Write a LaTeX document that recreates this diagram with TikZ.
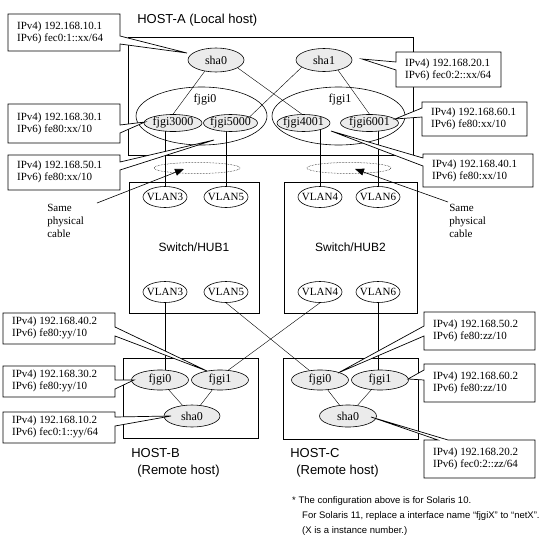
\documentclass[tikz,border=0pt]{standalone}
\usepackage{fontspec}
\setmainfont{Liberation Serif}
\newfontfamily\sansf{Liberation Sans}
\usetikzlibrary{shapes.geometric,arrows.meta,backgrounds}
\newcommand\coutE[7]{\draw[callout] (#1,#2) -- (#3,#2) -- (#3,#5) -- (#7) -- (#3,#6) -- (#3,#4) -- (#1,#4) -- cycle;}
\newcommand\coutW[7]{\draw[callout] (#3,#2) -- (#1,#2) -- (#1,#5) -- (#7) -- (#1,#6) -- (#1,#4) -- (#3,#4) -- cycle;}
\newcommand\coutN[7]{\draw[callout] (#1,#4) -- (#1,#2) -- (#5,#2) -- (#7) -- (#6,#2) -- (#3,#2) -- (#3,#4) -- cycle;}
\begin{document}
\begin{tikzpicture}[x=1pt,y=-1pt,line width=0.6pt,
  ell/.style={ellipse, draw, fill=black!8, inner sep=0pt},
  bigell/.style={ellipse, draw, inner sep=0pt},
  vlan/.style={ellipse, draw, fill=white, inner sep=0pt, minimum width=44pt, minimum height=21pt},
  etxt/.style={font=\fontsize{12}{14}\selectfont, inner sep=0pt},
  vtxt/.style={font=\fontsize{11}{13}\selectfont, inner sep=0pt},
  lbl/.style={font=\fontsize{11}{12.5}\selectfont, align=left, anchor=west, inner sep=0pt},
  callout/.style={draw, fill=white, line width=0.7pt},
  box/.style={draw, line width=0.8pt},
  hosttxt/.style={font=\sansf\fontsize{13}{15}\selectfont, inner sep=0pt, anchor=west},
  swtxt/.style={font=\sansf\fontsize{12}{14}\selectfont, inner sep=0pt},
  cabtxt/.style={font=\fontsize{11}{13}\selectfont, align=left, anchor=north west, inner sep=0pt},
  note/.style={font=\sansf\fontsize{9.5}{15}\selectfont, align=left, anchor=north west, inner sep=0pt},
  dotell/.style={ellipse, draw, densely dotted, line width=0.5pt, inner sep=0pt, minimum height=11pt},
  pointer/.style={-{Triangle[length=9pt,width=7pt]}, line width=0.6pt}]
\useasboundingbox (0,0) rectangle (540,541);

% ---------- HOST-A ----------
\node[hosttxt] (hAt) at (137,20) {HOST-A (Local host)};
\node[box, minimum width=285pt, minimum height=118pt, inner sep=0pt] (hostA) at (270.5,96) {};
\node[ell, minimum width=56pt, minimum height=24pt, label={[etxt]center:sha0}] (sha0A) at (216,60) {};
\node[ell, minimum width=56pt, minimum height=23pt, label={[etxt]center:sha1}] (sha1A) at (324,60) {};
\node[bigell, minimum width=131pt, minimum height=58pt] (fjgi0A) at (201.5,116) {};
\node[bigell, minimum width=133pt, minimum height=58pt] (fjgi1A) at (338.5,116) {};
\node[etxt] (fjgi0At) at (205,100) {fjgi0};
\node[etxt] (fjgi1At) at (340,100) {fjgi1};
\node[ell, minimum width=58pt, minimum height=17pt, label={[etxt]center:fjgi3000}] (f3000) at (173,123) {};
\node[ell, minimum width=54pt, minimum height=17pt, label={[etxt]center:fjgi5000}] (f5000) at (230.5,123) {};
\node[ell, minimum width=53pt, minimum height=17pt, label={[etxt]center:fjgi4001}] (f4001) at (303.5,123) {};
\node[ell, minimum width=58pt, minimum height=17pt, label={[etxt]center:fjgi6001}] (f6001) at (369.5,123) {};

% ---------- Switches ----------
\node[box, minimum width=130pt, minimum height=131pt, inner sep=0pt] (sw1) at (194,247.5) {};
\node[box, minimum width=133pt, minimum height=131pt, inner sep=0pt] (sw2) at (350.5,247.5) {};
\node[swtxt] (sw1t) at (194,247) {Switch/HUB1};
\node[swtxt] (sw2t) at (350.5,247) {Switch/HUB2};
\node[vlan, label={[vtxt]center:VLAN3}] (v3t) at (165,197) {};
\node[vlan, label={[vtxt]center:VLAN5}] (v5t) at (226,197) {};
\node[vlan, label={[vtxt]center:VLAN4}] (v4t) at (320,197) {};
\node[vlan, label={[vtxt]center:VLAN6}] (v6t) at (378,197) {};
\node[vlan, label={[vtxt]center:VLAN3}] (v3b) at (165,292) {};
\node[vlan, label={[vtxt]center:VLAN5}] (v5b) at (226,292) {};
\node[vlan, label={[vtxt]center:VLAN4}] (v4b) at (320,292) {};
\node[vlan, label={[vtxt]center:VLAN6}] (v6b) at (378,292) {};

% ---------- HOST-B ----------
\node[box, minimum width=135pt, minimum height=80pt, inner sep=0pt] (hostB) at (190.5,398) {};
\node[ell, minimum width=57pt, minimum height=20pt, label={[etxt]center:fjgi0}] (fB0) at (160,380) {};
\node[ell, minimum width=57pt, minimum height=20pt, label={[etxt]center:fjgi1}] (fB1) at (220,380) {};
\node[ell, minimum width=56pt, minimum height=22pt, label={[etxt]center:sha0}] (sB) at (192,416) {};
\node[hosttxt] (hBt) at (131,453) {HOST-B};
\node[hosttxt] (hBt2) at (137,471) {(Remote host)};

% ---------- HOST-C ----------
\node[box, minimum width=135pt, minimum height=81pt, inner sep=0pt] (hostC) at (350.5,398.5) {};
\node[ell, minimum width=57pt, minimum height=20pt, label={[etxt]center:fjgi0}] (fC0) at (320,380) {};
\node[ell, minimum width=57pt, minimum height=20pt, label={[etxt]center:fjgi1}] (fC1) at (380,380) {};
\node[ell, minimum width=57pt, minimum height=22pt, label={[etxt]center:sha0}] (sC) at (348,416) {};
\node[hosttxt] (hCt) at (290,453) {HOST-C};
\node[hosttxt] (hCt2) at (296,471) {(Remote host)};

% ---------- same physical cable ----------
\node[dotell, minimum width=86pt] (dotL) at (197,168) {};
\node[dotell, minimum width=84pt] (dotR) at (349,168) {};
\node[cabtxt] (cabL) at (47,204) {Same\\physical\\cable};
\node[cabtxt] (cabR) at (449,204) {Same\\physical\\cable};
\coordinate (aLs) at (97,203);
\coordinate (aLe) at (184,169);
\coordinate (aRs) at (448,202);
\coordinate (aRe) at (355,169);
\draw[pointer] (aLs) -- (aLe);
\draw[pointer] (aRs) -- (aRe);

% ---------- connectors ----------
\begin{pgfonlayer}{background}
\draw (sha0A.225) -- (f3000.north);
\draw (sha0A.-20) -- (f4001.100);
\draw (sha1A.198) -- (f5000.18);
\draw (sha1A.-36) -- (f6001.north);
\draw (v3t.north) -- (v3t.north |- f3000.center);
\draw (v5t.north) -- (v5t.north |- f5000.center);
\draw (v4t.north) -- (v4t.north |- f4001.center);
\draw (v6t.north) -- (v6t.north |- f6001.center);
\draw (v3b.south) -- (v3b.south |- fB0.center);
\draw (v5b.south) -- (fC0.138);
\draw (v4b.south) -- (fB1.50);
\draw (v6b.south) -- (v6b.south |- fC1.center);
\draw (fB0) -- (sB);
\draw (fB1) -- (sB);
\draw (fC0) -- (sC);
\draw (fC1) -- (sC);
\end{pgfonlayer}

% ---------- callouts ----------
\coordinate (tL1) at (187,53);
\coordinate (tL2) at (362,59);
\coordinate (tL3) at (145,122);
\coordinate (tL4) at (214,140);
\coordinate (tL5) at (395,119);
\coordinate (tL6) at (331,131);
\coordinate (tB1) at (207,371);
\coordinate (tB2) at (134,380);
\coordinate (tB3) at (171,416);
\coordinate (tC1) at (338,373);
\coordinate (tC2) at (408,379);
\coordinate (tC3) at (371,417);

\coutE{8}{14}{120}{51}{36}{44}{tL1}
\node[lbl] (l1) at (17,33) {IPv4) 192.168.10.1\\IPv6) fec0:1::xx/64};
\coutW{396}{52}{501}{87}{62}{70}{tL2}
\node[lbl] (l2) at (405,70) {IPv4) 192.168.20.1\\IPv6) fec0:2::xx/64};
\coutE{8}{104}{120}{143}{125}{133}{tL3}
\node[lbl] (l3) at (17,124) {IPv4) 192.168.30.1\\IPv6) fe80:xx/10};
\coutE{8}{155}{120}{190}{162}{170}{tL4}
\node[lbl] (l4) at (17,172) {IPv4) 192.168.50.1\\IPv6) fe80:xx/10};
\coutW{422}{102}{527}{136}{108}{117}{tL5}
\node[lbl] (l5) at (431,119) {IPv4) 192.168.60.1\\IPv6) fe80:xx/10};
\coutW{423}{154}{533}{187}{158}{166}{tL6}
\node[lbl] (l6) at (432,171) {IPv4) 192.168.40.1\\IPv6) fe80:xx/10};
\coutE{3}{313}{115}{344}{327}{336}{tB1}
\node[lbl] (l7) at (12,328) {IPv4) 192.168.40.2\\IPv6) fe80:yy/10};
\coutE{3}{366}{115}{397}{380}{389}{tB2}
\node[lbl] (l8) at (12,381) {IPv4) 192.168.30.2\\IPv6) fe80:yy/10};
\coutE{3}{412}{115}{443}{417}{426}{tB3}
\node[lbl] (l9) at (12,427) {IPv4) 192.168.10.2\\IPv6) fec0:1::yy/64};
\coutW{424}{312}{535}{350}{326}{336}{tC1}
\node[lbl] (l10) at (433,331) {IPv4) 192.168.50.2\\IPv6) fe80:zz/10};
\coutW{424}{364}{535}{402}{370}{380}{tC2}
\node[lbl] (l11) at (433,383) {IPv4) 192.168.60.2\\IPv6) fe80:zz/10};
\coutN{424}{440}{535}{478}{438}{448}{tC3}
\node[lbl] (l12) at (433,459) {IPv4) 192.168.20.2\\IPv6) fec0:2::zz/64};

% ---------- note ----------
\node[note] (nt) at (292,496) {* The configuration above is for Solaris 10.\\
\hspace*{10pt}For Solaris 11, replace a interface name “fjgiX” to “netX”.\\
\hspace*{10pt}(X is a instance number.)};
\end{tikzpicture}
\end{document}
